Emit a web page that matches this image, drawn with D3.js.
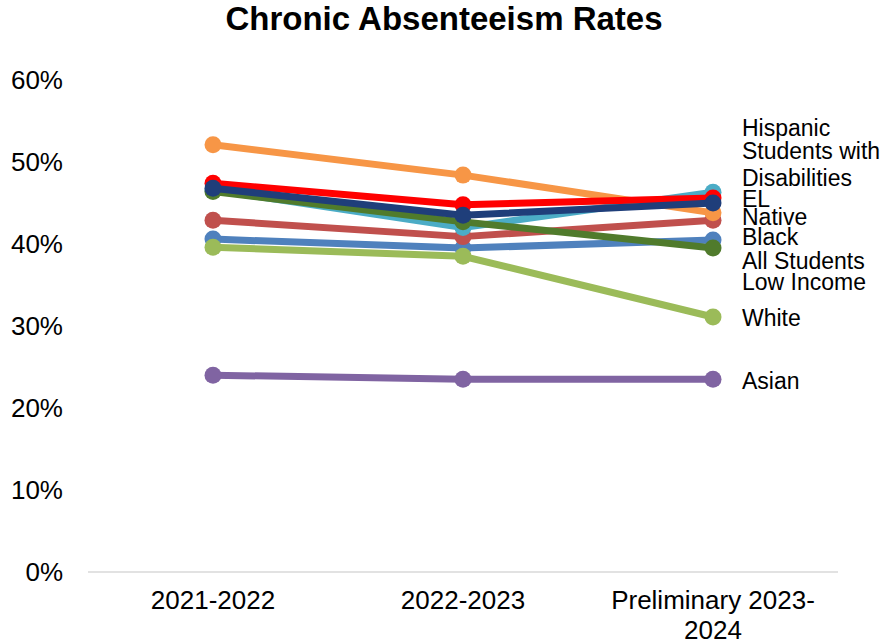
<!DOCTYPE html>
<meta charset="utf-8">
<script src="https://d3js.org/d3.v7.min.js"></script>
<style>
	body{
		margin:0;
		background:#fff;
		font-family: 'Liberation Sans', Arial, sans-serif;
	}
</style>
<div id="chart"></div>
<script>
	// school years on the x axis
	var years = ["2021-2022", "2022-2023", "Preliminary 2023-2024"]
	var yTicks = [0, 10, 20, 30, 40, 50, 60]

	// series in drawing order (later ones sit on top)
	var groups = ["All Students", "Black", "White", "Asian", "Hispanic", "Native", "Low Income", "Students with Disabilities", "EL"]
	var colors = ["#4F81BD", "#C0504D", "#9BBB59", "#8064A2", "#4BACC6", "#F79646", "#507B2C", "#FF0000", "#1F3E7A"]

	// chronic absenteeism rate, % (one value per year)
	var allStudents = [40.6, 39.5, 40.5]
	var black = [42.9, 40.9, 42.9]
	var white = [39.6, 38.5, 31.1]
	var asian = [24.0, 23.5, 23.5]
	var hispanic = [46.6, 42.0, 46.3]
	var native = [52.1, 48.4, 43.8]
	var lowIncome = [46.4, 42.7, 39.5]
	var disabilities = [47.4, 44.8, 45.6]
	var el = [46.8, 43.5, 45.0]

	var values = [allStudents, black, white, asian, hispanic, native, lowIncome, disabilities, el]

	// where the end labels sit (in % units), nudged apart like the original
	var labelAt = [37.7, 40.6, 30.7, 23.0, 53.9, 43.0, 35.1, 49.4, 45.2]

	var w = 882
	var h = 644
	var svg = d3.select("#chart").append("svg").attr("width", w).attr("height", h)

	var x = d3.scalePoint().domain(years).range([88, 838]).padding(0.5)
	var y = d3.scaleLinear().domain([0, 60]).range([572, 80])

	svg.append("text").text("Chronic Absenteeism Rates")
		.attr("x", 444).attr("y", 30)
		.attr("text-anchor", "middle")
		.style("font-size", "33px").style("font-weight", "bold")

	// baseline
	svg.append("line")
		.attr("x1", 88).attr("x2", 838)
		.attr("y1", y(0)).attr("y2", y(0))
		.attr("stroke", "#d9d9d9").attr("stroke-width", 1.5)

	// y tick labels
	svg.append("g").selectAll("text")
		.data(yTicks)
		.join("text")
		.attr("x", 63)
		.attr("y", function(d){ return y(d) })
		.attr("dy", "0.36em")
		.attr("text-anchor", "end")
		.style("font-size", "26px")
		.text(function(d){ return d + "%" })

	// x tick labels, wrapped like the original
	var xl = svg.append("g").selectAll("text")
		.data(years)
		.join("text")
		.attr("text-anchor", "middle")
		.style("font-size", "26px")
	xl.each(function(d){
		var lines = d == "Preliminary 2023-2024" ? ["Preliminary 2023-", "2024"] : [d]
		var t = d3.select(this)
		lines.forEach(function(l, i){
			t.append("tspan").attr("x", x(d)).attr("y", 609 + i * 30).text(l)
		})
	})

	var line = d3.line()
		.x(function(d, i){ return x(years[i]) })
		.y(function(d){ return y(d) })

	groups.forEach(function(name, s){
		var g = svg.append("g")
		g.append("path")
			.attr("d", line(values[s]))
			.attr("fill", "none")
			.attr("stroke", colors[s])
			.attr("stroke-width", 7)
			.attr("stroke-linejoin", "round")
		g.selectAll("circle")
			.data(values[s])
			.join("circle")
			.attr("cx", function(d, i){ return x(years[i]) })
			.attr("cy", function(d){ return y(d) })
			.attr("r", 8.5)
			.attr("fill", colors[s])
	})

	// end labels
	groups.forEach(function(name, s){
		var lines = name == "Students with Disabilities" ? ["Students with", "Disabilities"] : [name]
		var t = svg.append("text")
			.attr("text-anchor", "start")
			.style("font-size", "23px")
		var firstY = y(labelAt[s]) - (lines.length - 1) * 13.5
		lines.forEach(function(l, i){
			t.append("tspan")
				.attr("x", x(years[2]) + 29)
				.attr("y", firstY + i * 27)
				.attr("dy", "0.26em")
				.text(l)
		})
	})
</script>
